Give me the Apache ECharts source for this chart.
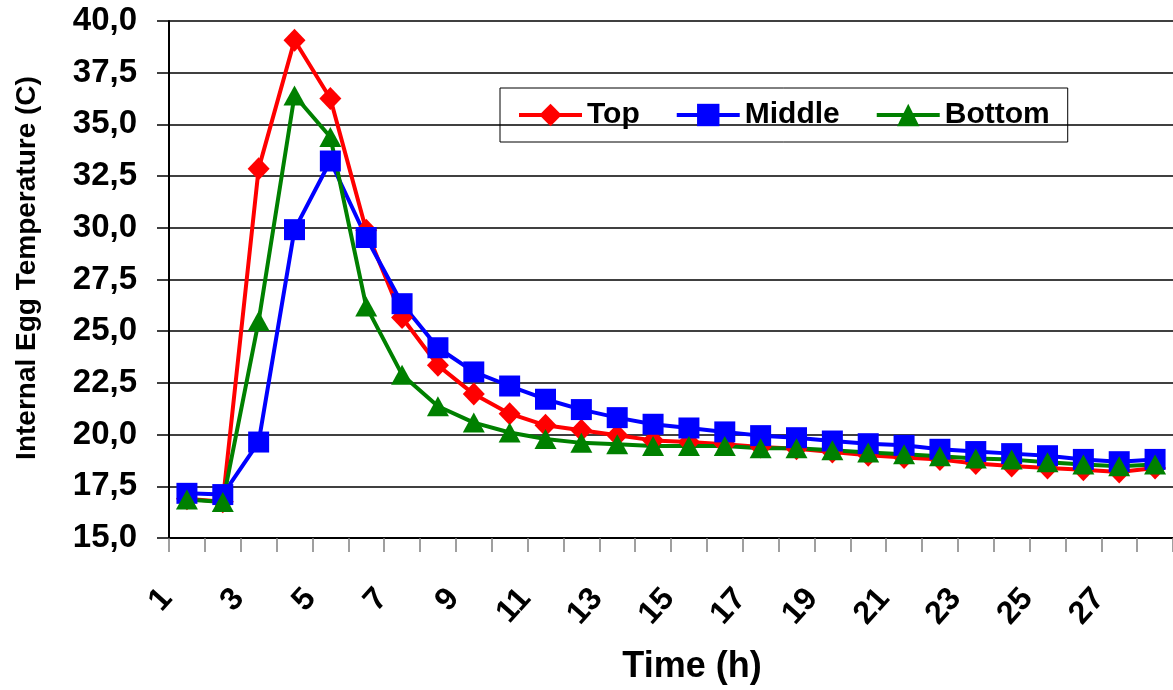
<!DOCTYPE html>
<html>
<head>
<meta charset="utf-8">
<script src="https://cdn.jsdelivr.net/npm/echarts@6/dist/echarts.min.js"></script>
<style>
html,body{margin:0;padding:0;background:#fff;}
#chart{width:1173px;height:690px;}
</style>
</head>
<body>
<div id="chart"></div>
<script>
const categories = ['1','2','3','4','5','6','7','8','9','10','11','12','13','14','15','16','17','18','19','20','21','22','23','24','25','26','27','28'];
const topValues = [16.9, 16.75, 32.86, 39.07, 36.25, 29.88, 25.66, 23.35, 21.96, 21.01, 20.45, 20.21, 19.97, 19.72, 19.64, 19.53, 19.4, 19.32, 19.16, 19.0, 18.89, 18.79, 18.6, 18.48, 18.38, 18.3, 18.19, 18.38];
const middleValues = [17.16, 17.1, 19.64, 29.91, 33.23, 29.53, 26.33, 24.2, 23.03, 22.35, 21.71, 21.21, 20.82, 20.5, 20.32, 20.13, 19.95, 19.85, 19.69, 19.56, 19.48, 19.29, 19.18, 19.08, 18.98, 18.8, 18.69, 18.8];
const bottomValues = [16.86, 16.74, 25.49, 36.4, 34.39, 26.2, 22.9, 21.37, 20.58, 20.1, 19.79, 19.6, 19.53, 19.45, 19.45, 19.45, 19.34, 19.34, 19.24, 19.13, 19.05, 18.95, 18.85, 18.79, 18.66, 18.56, 18.47, 18.56];
const seriesNames = ['Top', 'Middle', 'Bottom'];
const yTitle = 'Internal Egg Temperature (C)';
const xTitle = 'Time (h)';

const FONT = '"Liberation Sans", Arial, sans-serif';
const chart = echarts.init(document.getElementById('chart'), null, {renderer: 'canvas'});

function lineSeries(name, data, color, symbol, size) {
  return {
    name: name, type: 'line', data: data,
    symbol: symbol, symbolSize: size,
    lineStyle: {color: color, width: 4},
    itemStyle: {color: color},
    emphasis: {disabled: true},
    animation: false, z: 3
  };
}

chart.setOption({
  animation: false,
  backgroundColor: '#ffffff',
  grid: {left: 169, top: 21, width: 1007, height: 517, containLabel: false},
  legend: {
    left: 500, top: 88,
    padding: [12, 18, 12, 17],
    borderColor: '#000', borderWidth: 1,
    itemWidth: 63, itemHeight: 28, itemGap: 35,
    lineStyle: {width: 4},
    textStyle: {fontFamily: FONT, fontWeight: 'bold', fontSize: 30, color: '#000'},
    data: seriesNames
  },
  xAxis: {
    type: 'category', data: categories, boundaryGap: true,
    axisLine: {lineStyle: {color: '#000', width: 2}},
    axisTick: {show: true, interval: 0, length: 14, lineStyle: {color: '#808080', width: 1.5}},
    axisLabel: {
      interval: 1, rotate: 48, margin: 33, padding: [0, 30, 0, 0],
      fontFamily: FONT, fontWeight: 'bold', fontSize: 32, color: '#000'
    },
    splitLine: {show: false}
  },
  yAxis: {
    type: 'value', min: 15, max: 40, interval: 2.5,
    axisLine: {show: true, lineStyle: {color: '#000', width: 2}},
    axisTick: {show: true, length: 12, lineStyle: {color: '#000', width: 1.5}},
    axisLabel: {
      margin: 32, fontFamily: FONT, fontWeight: 'bold', fontSize: 33, color: '#000',
      formatter: v => v.toFixed(1).replace('.', ',')
    },
    splitLine: {show: true, lineStyle: {color: '#000', width: 1.5}}
  },
  graphic: [
    {type: 'text', x: 27, y: 268, rotation: Math.PI / 2,
     style: {text: yTitle, fontFamily: FONT, fontWeight: 'bold', fontSize: 28, fill: '#000', align: 'center', verticalAlign: 'middle'}},
    {type: 'text', x: 692, y: 667,
     style: {text: xTitle, fontFamily: FONT, fontWeight: 'bold', fontSize: 36, fill: '#000', align: 'center', verticalAlign: 'middle'}}
  ],
  series: [
    lineSeries(seriesNames[0], topValues, '#FF0000', 'diamond', [22, 23]),
    lineSeries(seriesNames[1], middleValues, '#0000FF', 'rect', [21, 21]),
    lineSeries(seriesNames[2], bottomValues, '#008000', 'triangle', [22, 20])
  ]
});
</script>
</body>
</html>
